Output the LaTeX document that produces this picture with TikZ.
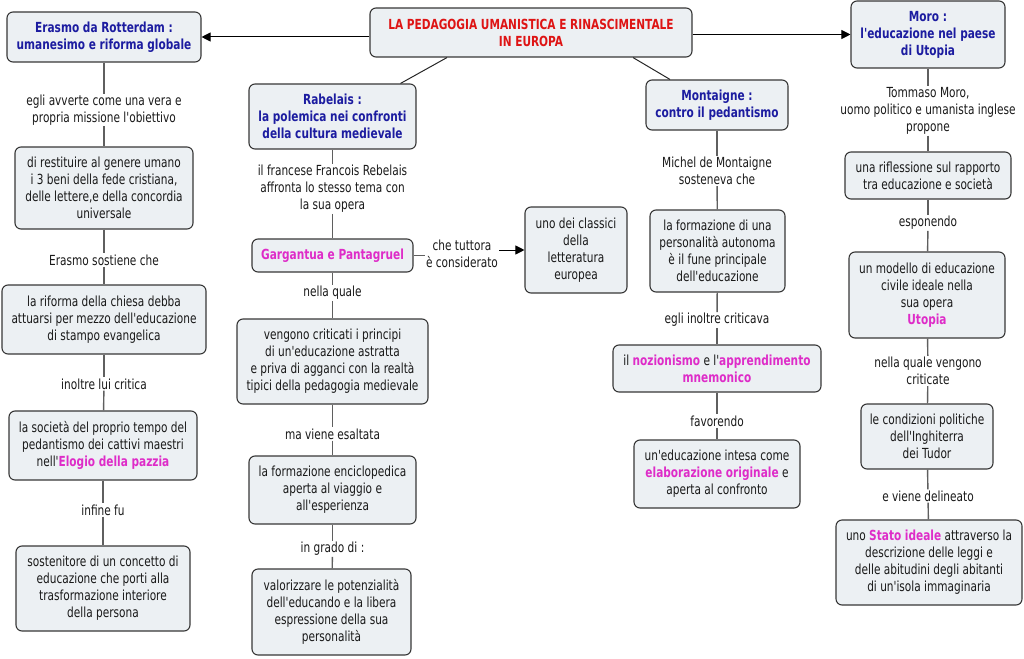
\documentclass[tikz,border=0pt]{standalone}
\usepackage{fontspec}
\setmainfont{DejaVu Sans}[FakeStretch=0.76, Ligatures=TeXOff]
\usetikzlibrary{arrows.meta}
\definecolor{boxfill}{RGB}{236,240,243}
\definecolor{boxborder}{RGB}{55,55,55}
\definecolor{linegray}{RGB}{95,95,95}
\definecolor{hblue}{RGB}{28,28,160}
\definecolor{tred}{RGB}{222,20,20}
\definecolor{pink}{RGB}{222,44,200}
\newcommand{\pk}[1]{{\color{pink}\bfseries #1}}
\newcommand{\mapfont}{\fontsize{13.9}{17}\selectfont}
\begin{document}
\begin{tikzpicture}[x=1pt,y=-1pt,
  every node/.style={font=\mapfont, text=black!90},
  box/.style={draw=boxborder, line width=1.1pt, fill=boxfill, rounded corners=6pt, align=center, inner sep=2pt},
  head/.style={box, font=\mapfont\bfseries, text=hblue},
  lbl/.style={align=center, inner sep=1pt},
  conn/.style={draw=linegray, line width=1.4pt},
  arr/.style={draw=black, line width=1pt, -{Triangle[length=9pt,width=9pt]}},
  tline/.style={draw=black!85, line width=1pt}]
\useasboundingbox (0,0) rectangle (1024,658);
% title and headers
\node[box, font=\mapfont\bfseries, text=tred, minimum width=322pt, minimum height=49pt] (title) at (531,32.5) {LA PEDAGOGIA UMANISTICA E RINASCIMENTALE\\IN EUROPA};
\node[head, minimum width=194pt, minimum height=50pt] (erasmo) at (104,37) {Erasmo da Rotterdam :\\umanesimo e riforma globale};
\node[head, minimum width=154pt, minimum height=67pt] (moro) at (928,34.5) {Moro :\\l'educazione nel paese\\di Utopia};
\node[head, minimum width=167pt, minimum height=65pt] (rabelais) at (332.5,116.5) {Rabelais :\\la polemica nei confronti\\della cultura medievale};
\node[head, minimum width=142pt, minimum height=50pt] (montaigne) at (717,105) {Montaigne :\\contro il pedantismo};
\draw[arr] (erasmo.east -| title.west) -- (erasmo.east);
\draw[arr] (title.east |- moro.west) -- (moro.west);
\draw[tline] ([xshift=-84pt]title.south) -- ([xshift=68pt]rabelais.north);
\draw[tline] ([xshift=102pt]title.south) -- ([xshift=-47pt]montaigne.north);
% Erasmo chain
\node[lbl] (e1) at (104,110) {egli avverte come una vera e\\propria missione l'obiettivo};
\node[box, minimum width=178pt, minimum height=82pt] (eb1) at (104,188) {di restituire al genere umano\\i 3 beni della fede cristiana,\\delle lettere,e della concordia\\universale};
\node[lbl] (e2) at (104,260) {Erasmo sostiene che};
\node[box, minimum width=204pt, minimum height=69pt] (eb2) at (104,319.5) {la riforma della chiesa debba\\attuarsi per mezzo dell'educazione\\di stampo evangelica};
\node[lbl] (e3) at (104,384) {inoltre lui critica};
\node[box, minimum width=188pt, minimum height=69pt] (eb3) at (103,445.5) {la società del proprio tempo del\\pedantismo dei cattivi maestri\\nell'\pk{Elogio della pazzia}};
\node[lbl] (e4) at (103,510) {infine fu};
\node[box, minimum width=174pt, minimum height=85pt] (eb4) at (103,588.5) {sostenitore di un concetto di\\educazione che porti alla\\trasformazione interiore\\della persona};
\draw[conn] (erasmo) -- (e1); \draw[conn] (e1) -- (eb1);
\draw[conn] (eb1) -- (e2); \draw[conn] (e2) -- (eb2);
\draw[conn] (eb2) -- (e3); \draw[conn] (e3) -- (eb3);
\draw[conn] (eb3) -- (e4); \draw[conn] (e4) -- (eb4);
% Rabelais chain
\node[lbl] (r1) at (332.5,189) {il francese Francois Rebelais\\affronta lo stesso tema con\\la sua opera};
\node[box, font=\mapfont\bfseries, text=pink, minimum width=161pt, minimum height=33pt] (garg) at (332.5,255.5) {Gargantua e Pantagruel};
\node[lbl] (rc) at (462,254) {che tuttora\\è considerato};
\node[box, minimum width=102pt, minimum height=86pt] (uno) at (576,250) {uno dei classici\\della\\letteratura\\europea};
\node[lbl] (r2) at (332.5,293) {nella quale};
\node[box, minimum width=191pt, minimum height=85pt] (rb2) at (332.5,361.5) {vengono criticati i principi\\di un'educazione astratta\\e priva di agganci con la realtà\\tipici della pedagogia medievale};
\node[lbl] (r3) at (332.5,434) {ma viene esaltata};
\node[box, minimum width=167pt, minimum height=68pt] (rb3) at (332.5,490) {la formazione enciclopedica\\aperta al viaggio e\\all'esperienza};
\node[lbl] (r4) at (332.5,549) {in grado di :};
\node[box, minimum width=159pt, minimum height=86pt] (rb4) at (331.5,612) {valorizzare le potenzialità\\dell'educando e la libera\\espressione della sua\\personalità};
\draw[conn] (rabelais) -- (r1); \draw[conn] (r1) -- (garg);
\draw[conn] (garg.east) -- (rc.west |- garg.east);
\draw[arr] (rc.east |- uno.west) -- (uno.west);
\draw[conn] (garg) -- (r2); \draw[conn] (r2) -- (rb2);
\draw[conn] (rb2) -- (r3); \draw[conn] (r3) -- (rb3);
\draw[conn] (rb3) -- (r4); \draw[conn] (r4) -- (rb4);
% Montaigne chain
\node[lbl] (m1) at (717,171) {Michel de Montaigne\\sosteneva che};
\node[box, minimum width=135pt, minimum height=82pt] (mb1) at (717.5,251) {la formazione di una\\personalità autonoma\\è il fune principale\\dell'educazione};
\node[lbl] (m2) at (717,320) {egli inoltre criticava};
\node[box, minimum width=208pt, minimum height=47pt] (mb2) at (717,368.5) {il \pk{nozionismo} e l'\pk{apprendimento}\\\pk{mnemonico}};
\node[lbl] (m3) at (717,421) {favorendo};
\node[box, minimum width=166pt, minimum height=68pt] (mb3) at (717,474) {un'educazione intesa come\\\pk{elaborazione originale} e\\aperta al confronto};
\draw[conn] (montaigne) -- (m1); \draw[conn] (m1) -- (mb1);
\draw[conn] (mb1) -- (m2); \draw[conn] (m2) -- (mb2);
\draw[conn] (mb2) -- (m3); \draw[conn] (m3) -- (mb3);
% Moro chain
\node[lbl] (o1) at (928,111) {Tommaso Moro,\\uomo politico e umanista inglese\\propone};
\node[box, minimum width=166pt, minimum height=47pt] (ob1) at (928,175.5) {una riflessione sul rapporto\\tra educazione e società};
\node[lbl] (o2) at (928,223) {esponendo};
\node[box, minimum width=156pt, minimum height=86pt] (ob2) at (927,295) {un modello di educazione\\civile ideale nella\\sua opera\\\pk{Utopia}};
\node[lbl] (o3) at (928,371) {nella quale vengono\\criticate};
\node[box, minimum width=132pt, minimum height=65pt] (ob3) at (927,436.5) {le condizioni politiche\\dell'Inghiterra\\dei Tudor};
\node[lbl] (o4) at (928,496) {e viene delineato};
\node[box, minimum width=186pt, minimum height=85pt] (ob4) at (929,562.5) {uno \pk{Stato ideale} attraverso la\\descrizione delle leggi e\\delle abitudini degli abitanti\\di un'isola immaginaria};
\draw[conn] (moro) -- (o1); \draw[conn] (o1) -- (ob1);
\draw[conn] (ob1) -- (o2); \draw[conn] (o2) -- (ob2);
\draw[conn] (ob2) -- (o3); \draw[conn] (o3) -- (ob3);
\draw[conn] (ob3) -- (o4); \draw[conn] (o4) -- (ob4);
\end{tikzpicture}
\end{document}
